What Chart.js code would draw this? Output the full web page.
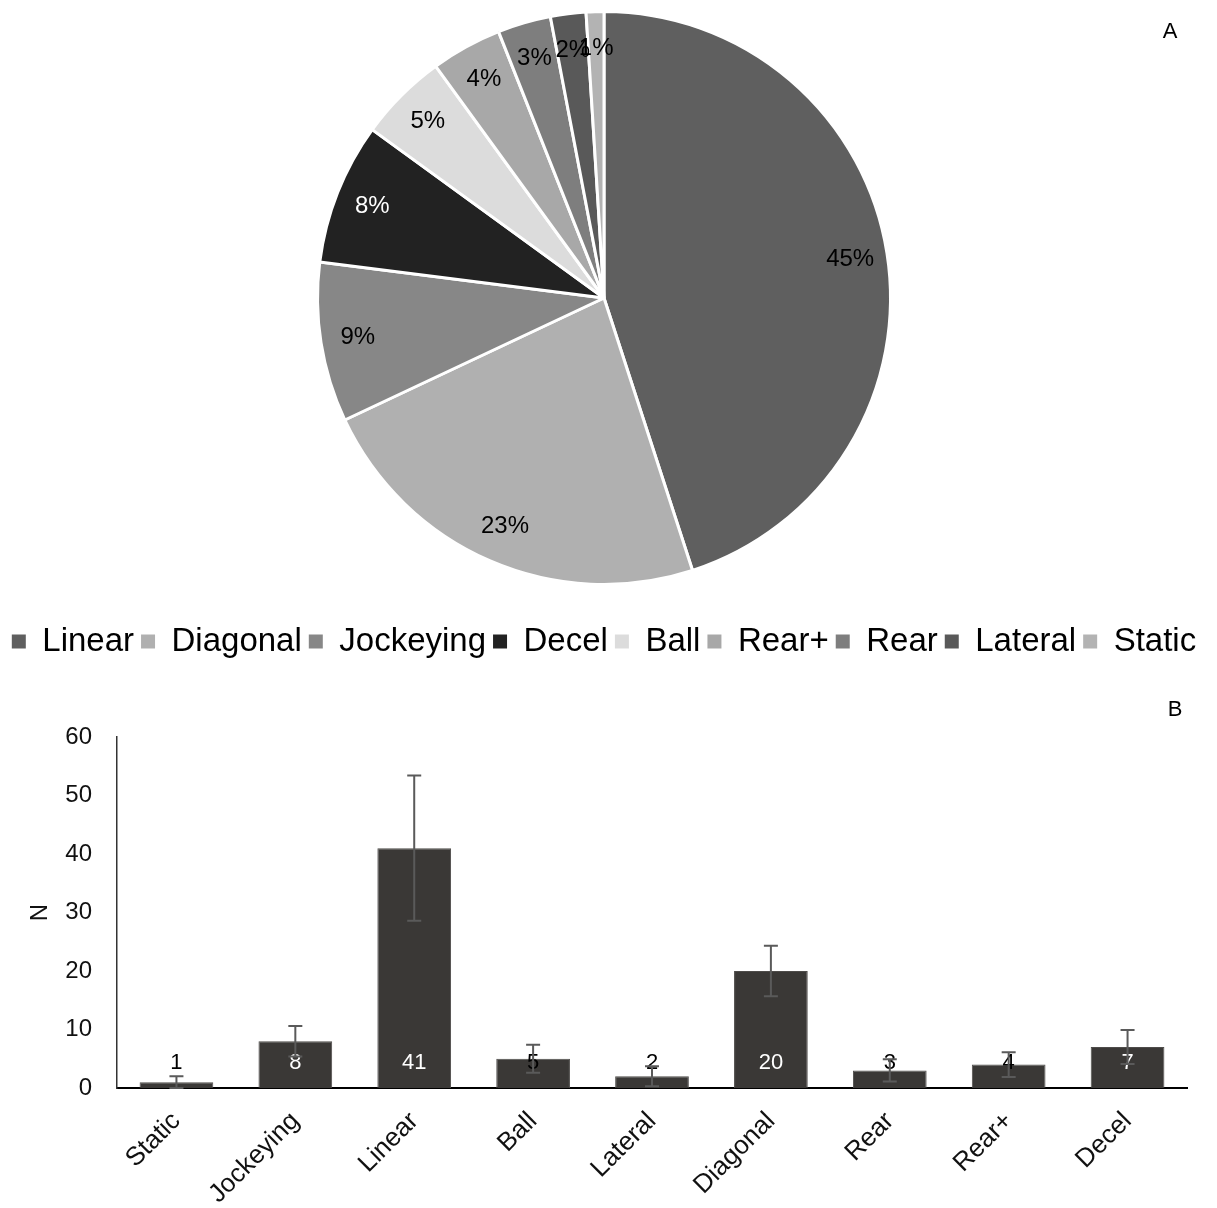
<!DOCTYPE html>
<html>
<head>
<meta charset="utf-8">
<title>Movement categories</title>
<script src="https://cdn.jsdelivr.net/npm/chart.js@4/dist/chart.umd.min.js"></script>
<style>
  html, body { margin: 0; padding: 0; background: #fff; }
  #wrap { position: relative; width: 1217px; height: 1208px; }
  #pieBox { position: absolute; left: 0; top: 0; width: 1217px; height: 680px; }
  #barBox { position: absolute; left: 0; top: 680px; width: 1217px; height: 528px; }
</style>
</head>
<body>
<div id="wrap">
  <div id="pieBox"><canvas id="pie"></canvas></div>
  <div id="barBox"><canvas id="bar"></canvas></div>
</div>
<script>
// Panel A: share of each movement category (percent)
const pieCategories = ['Linear', 'Diagonal', 'Jockeying', 'Decel', 'Ball', 'Rear+', 'Rear', 'Lateral', 'Static'];
const pieShares = [45, 23, 9, 8, 5, 4, 3, 2, 1];
const pieColors = ['#5f5f5f', '#b0b0b0', '#878787', '#222222', '#dcdcdc', '#a8a8a8', '#7e7e7e', '#595959', '#b3b3b3'];

// Panel B: mean count per category with standard deviation
const barCategories = ['Static', 'Jockeying', 'Linear', 'Ball', 'Lateral', 'Diagonal', 'Rear', 'Rear+', 'Decel'];
const barMeans = [1, 8, 41, 5, 2, 20, 3, 4, 7];
const barErrors = [1.0, 2.6, 12.4, 2.4, 1.7, 4.3, 1.9, 2.1, 2.9];
const yTicks = [0, 10, 20, 30, 40, 50, 60];

const FONT = "'Liberation Sans', Arial, Helvetica, sans-serif";

Chart.defaults.font.family = FONT;
Chart.defaults.color = '#000';

function luminance(hex) {
  const n = parseInt(hex.slice(1), 16);
  return (((n >> 16) & 255) * 0.299 + ((n >> 8) & 255) * 0.587 + (n & 255) * 0.114) / 255;
}

// Corner letter of each panel
const panelTag = {
  id: 'panelTag',
  afterDraw(chart, args, opts) {
    const { ctx } = chart;
    ctx.save();
    ctx.font = `${opts.size}px ${FONT}`;
    ctx.fillStyle = '#000';
    ctx.textAlign = 'center';
    ctx.textBaseline = 'middle';
    ctx.fillText(opts.text, chart.width - opts.right, opts.top);
    ctx.restore();
  }
};

// Percentage written inside each slice
const sliceLabels = {
  id: 'sliceLabels',
  afterDatasetsDraw(chart) {
    const meta = chart.getDatasetMeta(0);
    const { ctx } = chart;
    ctx.save();
    ctx.font = `24px ${FONT}`;
    ctx.textAlign = 'center';
    ctx.textBaseline = 'middle';
    meta.data.forEach((arc, i) => {
      const p = arc.getProps(['x', 'y', 'startAngle', 'endAngle', 'outerRadius'], true);
      const mid = (p.startAngle + p.endAngle) / 2;
      const r = p.outerRadius * 0.87;
      ctx.fillStyle = luminance(pieColors[i]) < 0.2 ? '#ffffff' : '#000000';
      ctx.fillText(pieShares[i] + '%', p.x + Math.cos(mid) * r, p.y + Math.sin(mid) * r);
    });
    ctx.restore();
  }
};

// Value labels near the base of each bar, then the SD whiskers on top
const barDecor = {
  id: 'barDecor',
  afterDatasetsDraw(chart) {
    const meta = chart.getDatasetMeta(0);
    const y = chart.scales.y;
    const { ctx } = chart;
    const base = y.getPixelForValue(0);
    const labelY = base - 25;
    ctx.save();
    ctx.font = `22px ${FONT}`;
    ctx.textAlign = 'center';
    ctx.textBaseline = 'middle';
    meta.data.forEach((bar, i) => {
      const top = y.getPixelForValue(barMeans[i]);
      ctx.fillStyle = top < labelY - 9 ? '#ffffff' : '#000000';
      ctx.fillText(String(barMeans[i]), bar.x, labelY);
    });
    ctx.strokeStyle = '#5a5a5a';
    ctx.lineWidth = 2;
    meta.data.forEach((bar, i) => {
      const hi = y.getPixelForValue(barMeans[i] + barErrors[i]);
      const lo = y.getPixelForValue(Math.max(0, barMeans[i] - barErrors[i]));
      ctx.beginPath();
      ctx.moveTo(bar.x, hi); ctx.lineTo(bar.x, lo);
      ctx.moveTo(bar.x - 7, hi); ctx.lineTo(bar.x + 7, hi);
      ctx.moveTo(bar.x - 7, lo); ctx.lineTo(bar.x + 7, lo);
      ctx.stroke();
    });
    ctx.restore();
  }
};

new Chart(document.getElementById('pie'), {
  type: 'pie',
  data: {
    labels: pieCategories,
    datasets: [{
      data: pieShares,
      backgroundColor: pieColors,
      borderColor: '#ffffff',
      borderWidth: 3
    }]
  },
  options: {
    responsive: true,
    maintainAspectRatio: false,
    devicePixelRatio: 1,
    animation: false,
    layout: { padding: { top: 10, right: 9, bottom: 12, left: 0 } },
    plugins: {
      tooltip: { enabled: false },
      panelTag: { text: 'A', size: 22, right: 47, top: 32 },
      legend: {
        position: 'bottom',
        title: { display: true, text: '', font: { size: 32, lineHeight: 1 }, padding: 0 },
        labels: {
          boxWidth: 14,
          boxHeight: 14,
          padding: 7,
          color: '#000',
          font: { size: 33, family: FONT },
          generateLabels(chart) {
            const items = Chart.overrides.pie.plugins.legend.labels.generateLabels(chart);
            items.forEach(it => { it.lineWidth = 0; it.strokeStyle = it.fillStyle; });
            return items;
          }
        }
      }
    }
  },
  plugins: [sliceLabels, panelTag]
});

new Chart(document.getElementById('bar'), {
  type: 'bar',
  data: {
    labels: barCategories,
    datasets: [{
      data: barMeans,
      backgroundColor: '#3a3836',
      borderColor: '#4e4c4a',
      borderWidth: 1,
      barPercentage: 0.62,
      categoryPercentage: 1
    }]
  },
  options: {
    responsive: true,
    maintainAspectRatio: false,
    devicePixelRatio: 1,
    animation: false,
    layout: { padding: { top: 57, right: 30, bottom: 0, left: 0 } },
    plugins: {
      legend: { display: false },
      tooltip: { enabled: false },
      panelTag: { text: 'B', size: 22, right: 42, top: 30 }
    },
    scales: {
      x: {
        grid: { display: false, drawTicks: false },
        border: { color: '#000', width: 2 },
        ticks: {
          color: '#111',
          font: { size: 26, family: FONT },
          minRotation: 45,
          maxRotation: 45,
          autoSkip: false,
          padding: 18
        },
        afterFit(scale) { scale.height = 120; }
      },
      y: {
        min: 0,
        max: 60,
        grid: { display: false, drawTicks: false },
        border: { color: '#333', width: 1.5 },
        afterBuildTicks(scale) { scale.ticks = yTicks.map(v => ({ value: v })); },
        ticks: {
          color: '#111',
          font: { size: 24, family: FONT },
          padding: 25
        },
        title: {
          display: true,
          text: 'N',
          color: '#111',
          font: { size: 24, family: FONT },
          padding: { top: 26, bottom: 0 }
        },
        afterFit(scale) { scale.width = 117; }
      }
    }
  },
  plugins: [barDecor, panelTag]
});
</script>
</body>
</html>
